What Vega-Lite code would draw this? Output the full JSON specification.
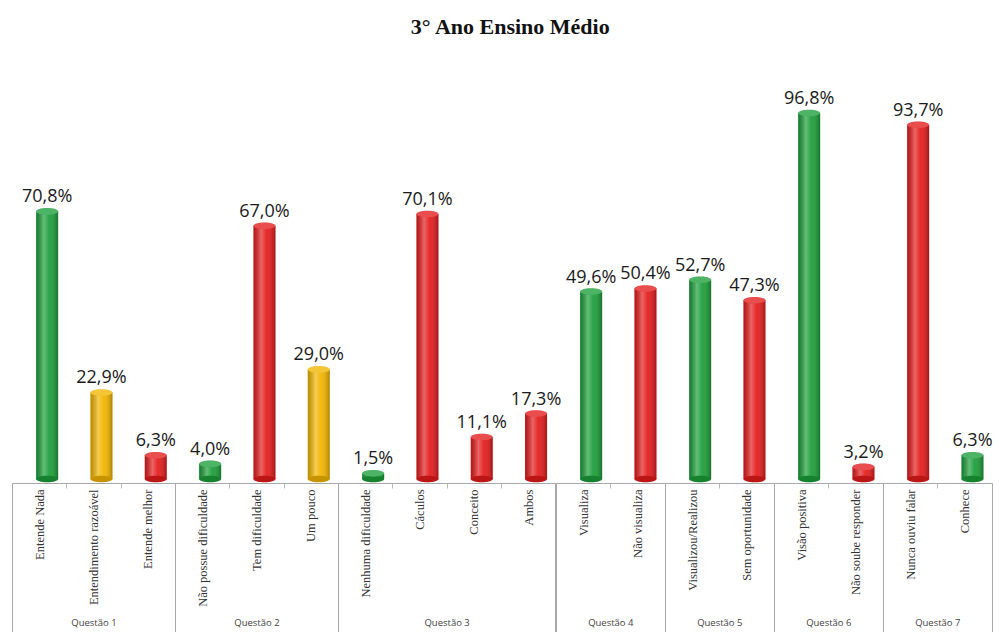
{
  "$schema": "https://vega.github.io/schema/vega-lite/v6.json",
  "padding": {"left": 6, "top": 16, "right": 0, "bottom": 0},
  "title": {"text": "3° Ano Ensino Médio", "font": "Liberation Serif", "fontSize": 22, "fontWeight": "bold", "color": "#111", "anchor": "middle", "offset": 51, "dx": 11},
  "config": {
    "view": {"stroke": null},
    "locale": {"number": {"decimal": ",", "thousands": ".", "grouping": [3], "currency": ["", "%"]}}
  },
  "data": {"values": [
    {"questao": "Questão 1", "resposta": "Entende Nada", "percentual": 70.8, "avaliacao": "favoravel"},
    {"questao": "Questão 1", "resposta": "Entendimento razoável", "percentual": 22.9, "avaliacao": "parcial"},
    {"questao": "Questão 1", "resposta": "Entende melhor", "percentual": 6.3, "avaliacao": "desfavoravel"},
    {"questao": "Questão 2", "resposta": "Não possue dificuldade", "percentual": 4.0, "avaliacao": "favoravel"},
    {"questao": "Questão 2", "resposta": "Tem dificuldade", "percentual": 67.0, "avaliacao": "desfavoravel"},
    {"questao": "Questão 2", "resposta": "Um pouco", "percentual": 29.0, "avaliacao": "parcial"},
    {"questao": "Questão 3", "resposta": "Nenhuma dificuldade", "percentual": 1.5, "avaliacao": "favoravel"},
    {"questao": "Questão 3", "resposta": "Cáculos", "percentual": 70.1, "avaliacao": "desfavoravel"},
    {"questao": "Questão 3", "resposta": "Conceito", "percentual": 11.1, "avaliacao": "desfavoravel"},
    {"questao": "Questão 3", "resposta": "Ambos", "percentual": 17.3, "avaliacao": "desfavoravel"},
    {"questao": "Questão 4", "resposta": "Visualiza", "percentual": 49.6, "avaliacao": "favoravel"},
    {"questao": "Questão 4", "resposta": "Não visualiza", "percentual": 50.4, "avaliacao": "desfavoravel"},
    {"questao": "Questão 5", "resposta": "Visualizou/Realizou", "percentual": 52.7, "avaliacao": "favoravel"},
    {"questao": "Questão 5", "resposta": "Sem oportunidade", "percentual": 47.3, "avaliacao": "desfavoravel"},
    {"questao": "Questão 6", "resposta": "Visão positiva", "percentual": 96.8, "avaliacao": "favoravel"},
    {"questao": "Questão 6", "resposta": "Não soube responder", "percentual": 3.2, "avaliacao": "desfavoravel"},
    {"questao": "Questão 7", "resposta": "Nunca ouviu falar", "percentual": 93.7, "avaliacao": "desfavoravel"},
    {"questao": "Questão 7", "resposta": "Conhece", "percentual": 6.3, "avaliacao": "favoravel"}
  ]},
  "spacing": 0,
  "bounds": "flush",
  "resolve": {"scale": {"color": "shared"}},
  "hconcat": [
    {
      "width": 162.9, "height": 378,
      "transform": [{"filter": {"field": "questao", "equal": "Questão 1"}}],
      "resolve": {"scale": {"x": "independent"}},
      "layer": [
        {
          "encoding": {
            "x": {"field": "resposta", "type": "nominal", "sort": null, "scale": {"type": "band", "paddingInner": 0, "paddingOuter": 0},
              "axis": {"orient": "bottom", "title": null, "offset": 4, "domainColor": "#a8a8a8", "tickColor": "#b8b8b8", "tickSize": 5, "tickBand": "extent", "labelAngle": 270, "labelAlign": "right", "labelBaseline": "middle", "labelPadding": 1, "labelFont": "Liberation Serif", "labelFontSize": 12.5, "labelColor": "#333", "labelLimit": 0, "labelOverlap": false}}
          },
          "layer": [
            {"mark": {"type": "bar", "width": 22, "xOffset": 8}, "encoding": {"y": {"field": "percentual", "type": "quantitative", "scale": {"domain": [0, 100]}, "axis": null}, "color": {"field": "avaliacao", "type": "nominal", "legend": null, "scale": {"domain": ["favoravel", "parcial", "desfavoravel"], "range": ["#1c9e3a", "#f2b500", "#e31c1c"]}}}},
            {"mark": {"type": "bar", "width": 22, "xOffset": 8, "fill": {"gradient": "linear", "x1": 0, "y1": 0, "x2": 1, "y2": 0, "stops": [{"offset": 0, "color": "rgba(0,0,0,0.22)"}, {"offset": 0.35, "color": "rgba(255,255,255,0.32)"}, {"offset": 0.6, "color": "rgba(255,255,255,0.06)"}, {"offset": 1, "color": "rgba(0,0,0,0.28)"}]}}, "encoding": {"y": {"field": "percentual", "type": "quantitative", "axis": null}}},
            {"mark": {"type": "point", "shape": "M-1,0A1,0.3,0,1,0,1,0A1,0.3,0,1,0,-1,0Z", "size": 484, "filled": true, "opacity": 1, "xOffset": 8}, "encoding": {"y": {"datum": 0, "axis": null}, "color": {"field": "avaliacao", "type": "nominal", "legend": null}}},
            {"mark": {"type": "point", "shape": "M-1,0A1,0.3,0,1,0,1,0A1,0.3,0,1,0,-1,0Z", "size": 484, "filled": true, "opacity": 0.18, "color": "#000", "xOffset": 8}, "encoding": {"y": {"datum": 0, "axis": null}}},
            {"mark": {"type": "point", "shape": "M-1,0A1,0.3,0,1,0,1,0A1,0.3,0,1,0,-1,0Z", "size": 484, "filled": true, "opacity": 1, "xOffset": 8}, "encoding": {"y": {"field": "percentual", "type": "quantitative", "axis": null}, "color": {"field": "avaliacao", "type": "nominal", "legend": null}}},
            {"mark": {"type": "point", "shape": "M-1,0A1,0.3,0,1,0,1,0A1,0.3,0,1,0,-1,0Z", "size": 484, "filled": true, "opacity": 0.22, "color": "#ffffff", "xOffset": 8}, "encoding": {"y": {"field": "percentual", "type": "quantitative", "axis": null}}},
            {"mark": {"type": "text", "xOffset": 8, "dy": -9, "baseline": "alphabetic", "font": "Open Sans", "fontSize": 18, "color": "#1a1a1a"}, "encoding": {"y": {"field": "percentual", "type": "quantitative", "axis": null}, "text": {"field": "percentual", "type": "quantitative", "format": "$.1f"}}}
          ]
        },
        {
          "mark": {"type": "point", "opacity": 0},
          "encoding": {
            "x": {"field": "questao", "type": "nominal", "scale": {"type": "band", "paddingInner": 0, "paddingOuter": 0},
              "axis": {"orient": "bottom", "title": null, "offset": 4, "domain": false, "tickColor": "#a8a8a8", "tickSize": 149, "tickBand": "extent", "labelAngle": 0, "labelAlign": "center", "labelBaseline": "middle", "labelPadding": -10, "labelFont": "Open Sans", "labelFontSize": 9.5, "labelColor": "#444"}}
          }
        }
      ]
    },
    {
      "width": 162.9, "height": 378,
      "transform": [{"filter": {"field": "questao", "equal": "Questão 2"}}],
      "resolve": {"scale": {"x": "independent"}},
      "layer": [
        {
          "encoding": {
            "x": {"field": "resposta", "type": "nominal", "sort": null, "scale": {"type": "band", "paddingInner": 0, "paddingOuter": 0},
              "axis": {"orient": "bottom", "title": null, "offset": 4, "domainColor": "#a8a8a8", "tickColor": "#b8b8b8", "tickSize": 5, "tickBand": "extent", "labelAngle": 270, "labelAlign": "right", "labelBaseline": "middle", "labelPadding": 1, "labelFont": "Liberation Serif", "labelFontSize": 12.5, "labelColor": "#333", "labelLimit": 0, "labelOverlap": false}}
          },
          "layer": [
            {"mark": {"type": "bar", "width": 22, "xOffset": 8}, "encoding": {"y": {"field": "percentual", "type": "quantitative", "scale": {"domain": [0, 100]}, "axis": null}, "color": {"field": "avaliacao", "type": "nominal", "legend": null}}},
            {"mark": {"type": "bar", "width": 22, "xOffset": 8, "fill": {"gradient": "linear", "x1": 0, "y1": 0, "x2": 1, "y2": 0, "stops": [{"offset": 0, "color": "rgba(0,0,0,0.22)"}, {"offset": 0.35, "color": "rgba(255,255,255,0.32)"}, {"offset": 0.6, "color": "rgba(255,255,255,0.06)"}, {"offset": 1, "color": "rgba(0,0,0,0.28)"}]}}, "encoding": {"y": {"field": "percentual", "type": "quantitative", "axis": null}}},
            {"mark": {"type": "point", "shape": "M-1,0A1,0.3,0,1,0,1,0A1,0.3,0,1,0,-1,0Z", "size": 484, "filled": true, "opacity": 1, "xOffset": 8}, "encoding": {"y": {"datum": 0, "axis": null}, "color": {"field": "avaliacao", "type": "nominal", "legend": null}}},
            {"mark": {"type": "point", "shape": "M-1,0A1,0.3,0,1,0,1,0A1,0.3,0,1,0,-1,0Z", "size": 484, "filled": true, "opacity": 0.18, "color": "#000", "xOffset": 8}, "encoding": {"y": {"datum": 0, "axis": null}}},
            {"mark": {"type": "point", "shape": "M-1,0A1,0.3,0,1,0,1,0A1,0.3,0,1,0,-1,0Z", "size": 484, "filled": true, "opacity": 1, "xOffset": 8}, "encoding": {"y": {"field": "percentual", "type": "quantitative", "axis": null}, "color": {"field": "avaliacao", "type": "nominal", "legend": null}}},
            {"mark": {"type": "point", "shape": "M-1,0A1,0.3,0,1,0,1,0A1,0.3,0,1,0,-1,0Z", "size": 484, "filled": true, "opacity": 0.22, "color": "#ffffff", "xOffset": 8}, "encoding": {"y": {"field": "percentual", "type": "quantitative", "axis": null}}},
            {"mark": {"type": "text", "xOffset": 8, "dy": -9, "baseline": "alphabetic", "font": "Open Sans", "fontSize": 18, "color": "#1a1a1a"}, "encoding": {"y": {"field": "percentual", "type": "quantitative", "axis": null}, "text": {"field": "percentual", "type": "quantitative", "format": "$.1f"}}}
          ]
        },
        {
          "mark": {"type": "point", "opacity": 0},
          "encoding": {
            "x": {"field": "questao", "type": "nominal", "scale": {"type": "band", "paddingInner": 0, "paddingOuter": 0},
              "axis": {"orient": "bottom", "title": null, "offset": 4, "domain": false, "tickColor": "#a8a8a8", "tickSize": 149, "tickBand": "extent", "labelAngle": 0, "labelAlign": "center", "labelBaseline": "middle", "labelPadding": -10, "labelFont": "Open Sans", "labelFontSize": 9.5, "labelColor": "#444"}}
          }
        }
      ]
    },
    {
      "width": 217.2, "height": 378,
      "transform": [{"filter": {"field": "questao", "equal": "Questão 3"}}],
      "resolve": {"scale": {"x": "independent"}},
      "layer": [
        {
          "encoding": {
            "x": {"field": "resposta", "type": "nominal", "sort": null, "scale": {"type": "band", "paddingInner": 0, "paddingOuter": 0},
              "axis": {"orient": "bottom", "title": null, "offset": 4, "domainColor": "#a8a8a8", "tickColor": "#b8b8b8", "tickSize": 5, "tickBand": "extent", "labelAngle": 270, "labelAlign": "right", "labelBaseline": "middle", "labelPadding": 1, "labelFont": "Liberation Serif", "labelFontSize": 12.5, "labelColor": "#333", "labelLimit": 0, "labelOverlap": false}}
          },
          "layer": [
            {"mark": {"type": "bar", "width": 22, "xOffset": 8}, "encoding": {"y": {"field": "percentual", "type": "quantitative", "scale": {"domain": [0, 100]}, "axis": null}, "color": {"field": "avaliacao", "type": "nominal", "legend": null}}},
            {"mark": {"type": "bar", "width": 22, "xOffset": 8, "fill": {"gradient": "linear", "x1": 0, "y1": 0, "x2": 1, "y2": 0, "stops": [{"offset": 0, "color": "rgba(0,0,0,0.22)"}, {"offset": 0.35, "color": "rgba(255,255,255,0.32)"}, {"offset": 0.6, "color": "rgba(255,255,255,0.06)"}, {"offset": 1, "color": "rgba(0,0,0,0.28)"}]}}, "encoding": {"y": {"field": "percentual", "type": "quantitative", "axis": null}}},
            {"mark": {"type": "point", "shape": "M-1,0A1,0.3,0,1,0,1,0A1,0.3,0,1,0,-1,0Z", "size": 484, "filled": true, "opacity": 1, "xOffset": 8}, "encoding": {"y": {"datum": 0, "axis": null}, "color": {"field": "avaliacao", "type": "nominal", "legend": null}}},
            {"mark": {"type": "point", "shape": "M-1,0A1,0.3,0,1,0,1,0A1,0.3,0,1,0,-1,0Z", "size": 484, "filled": true, "opacity": 0.18, "color": "#000", "xOffset": 8}, "encoding": {"y": {"datum": 0, "axis": null}}},
            {"mark": {"type": "point", "shape": "M-1,0A1,0.3,0,1,0,1,0A1,0.3,0,1,0,-1,0Z", "size": 484, "filled": true, "opacity": 1, "xOffset": 8}, "encoding": {"y": {"field": "percentual", "type": "quantitative", "axis": null}, "color": {"field": "avaliacao", "type": "nominal", "legend": null}}},
            {"mark": {"type": "point", "shape": "M-1,0A1,0.3,0,1,0,1,0A1,0.3,0,1,0,-1,0Z", "size": 484, "filled": true, "opacity": 0.22, "color": "#ffffff", "xOffset": 8}, "encoding": {"y": {"field": "percentual", "type": "quantitative", "axis": null}}},
            {"mark": {"type": "text", "xOffset": 8, "dy": -9, "baseline": "alphabetic", "font": "Open Sans", "fontSize": 18, "color": "#1a1a1a"}, "encoding": {"y": {"field": "percentual", "type": "quantitative", "axis": null}, "text": {"field": "percentual", "type": "quantitative", "format": "$.1f"}}}
          ]
        },
        {
          "mark": {"type": "point", "opacity": 0},
          "encoding": {
            "x": {"field": "questao", "type": "nominal", "scale": {"type": "band", "paddingInner": 0, "paddingOuter": 0},
              "axis": {"orient": "bottom", "title": null, "offset": 4, "domain": false, "tickColor": "#a8a8a8", "tickSize": 149, "tickBand": "extent", "labelAngle": 0, "labelAlign": "center", "labelBaseline": "middle", "labelPadding": -10, "labelFont": "Open Sans", "labelFontSize": 9.5, "labelColor": "#444"}}
          }
        }
      ]
    },
    {
      "width": 108.6, "height": 378,
      "transform": [{"filter": {"field": "questao", "equal": "Questão 4"}}],
      "resolve": {"scale": {"x": "independent"}},
      "layer": [
        {
          "encoding": {
            "x": {"field": "resposta", "type": "nominal", "sort": null, "scale": {"type": "band", "paddingInner": 0, "paddingOuter": 0},
              "axis": {"orient": "bottom", "title": null, "offset": 4, "domainColor": "#a8a8a8", "tickColor": "#b8b8b8", "tickSize": 5, "tickBand": "extent", "labelAngle": 270, "labelAlign": "right", "labelBaseline": "middle", "labelPadding": 1, "labelFont": "Liberation Serif", "labelFontSize": 12.5, "labelColor": "#333", "labelLimit": 0, "labelOverlap": false}}
          },
          "layer": [
            {"mark": {"type": "bar", "width": 22, "xOffset": 8}, "encoding": {"y": {"field": "percentual", "type": "quantitative", "scale": {"domain": [0, 100]}, "axis": null}, "color": {"field": "avaliacao", "type": "nominal", "legend": null}}},
            {"mark": {"type": "bar", "width": 22, "xOffset": 8, "fill": {"gradient": "linear", "x1": 0, "y1": 0, "x2": 1, "y2": 0, "stops": [{"offset": 0, "color": "rgba(0,0,0,0.22)"}, {"offset": 0.35, "color": "rgba(255,255,255,0.32)"}, {"offset": 0.6, "color": "rgba(255,255,255,0.06)"}, {"offset": 1, "color": "rgba(0,0,0,0.28)"}]}}, "encoding": {"y": {"field": "percentual", "type": "quantitative", "axis": null}}},
            {"mark": {"type": "point", "shape": "M-1,0A1,0.3,0,1,0,1,0A1,0.3,0,1,0,-1,0Z", "size": 484, "filled": true, "opacity": 1, "xOffset": 8}, "encoding": {"y": {"datum": 0, "axis": null}, "color": {"field": "avaliacao", "type": "nominal", "legend": null}}},
            {"mark": {"type": "point", "shape": "M-1,0A1,0.3,0,1,0,1,0A1,0.3,0,1,0,-1,0Z", "size": 484, "filled": true, "opacity": 0.18, "color": "#000", "xOffset": 8}, "encoding": {"y": {"datum": 0, "axis": null}}},
            {"mark": {"type": "point", "shape": "M-1,0A1,0.3,0,1,0,1,0A1,0.3,0,1,0,-1,0Z", "size": 484, "filled": true, "opacity": 1, "xOffset": 8}, "encoding": {"y": {"field": "percentual", "type": "quantitative", "axis": null}, "color": {"field": "avaliacao", "type": "nominal", "legend": null}}},
            {"mark": {"type": "point", "shape": "M-1,0A1,0.3,0,1,0,1,0A1,0.3,0,1,0,-1,0Z", "size": 484, "filled": true, "opacity": 0.22, "color": "#ffffff", "xOffset": 8}, "encoding": {"y": {"field": "percentual", "type": "quantitative", "axis": null}}},
            {"mark": {"type": "text", "xOffset": 8, "dy": -9, "baseline": "alphabetic", "font": "Open Sans", "fontSize": 18, "color": "#1a1a1a"}, "encoding": {"y": {"field": "percentual", "type": "quantitative", "axis": null}, "text": {"field": "percentual", "type": "quantitative", "format": "$.1f"}}}
          ]
        },
        {
          "mark": {"type": "point", "opacity": 0},
          "encoding": {
            "x": {"field": "questao", "type": "nominal", "scale": {"type": "band", "paddingInner": 0, "paddingOuter": 0},
              "axis": {"orient": "bottom", "title": null, "offset": 4, "domain": false, "tickColor": "#a8a8a8", "tickSize": 149, "tickBand": "extent", "labelAngle": 0, "labelAlign": "center", "labelBaseline": "middle", "labelPadding": -10, "labelFont": "Open Sans", "labelFontSize": 9.5, "labelColor": "#444"}}
          }
        }
      ]
    },
    {
      "width": 108.6, "height": 378,
      "transform": [{"filter": {"field": "questao", "equal": "Questão 5"}}],
      "resolve": {"scale": {"x": "independent"}},
      "layer": [
        {
          "encoding": {
            "x": {"field": "resposta", "type": "nominal", "sort": null, "scale": {"type": "band", "paddingInner": 0, "paddingOuter": 0},
              "axis": {"orient": "bottom", "title": null, "offset": 4, "domainColor": "#a8a8a8", "tickColor": "#b8b8b8", "tickSize": 5, "tickBand": "extent", "labelAngle": 270, "labelAlign": "right", "labelBaseline": "middle", "labelPadding": 1, "labelFont": "Liberation Serif", "labelFontSize": 12.5, "labelColor": "#333", "labelLimit": 0, "labelOverlap": false}}
          },
          "layer": [
            {"mark": {"type": "bar", "width": 22, "xOffset": 8}, "encoding": {"y": {"field": "percentual", "type": "quantitative", "scale": {"domain": [0, 100]}, "axis": null}, "color": {"field": "avaliacao", "type": "nominal", "legend": null}}},
            {"mark": {"type": "bar", "width": 22, "xOffset": 8, "fill": {"gradient": "linear", "x1": 0, "y1": 0, "x2": 1, "y2": 0, "stops": [{"offset": 0, "color": "rgba(0,0,0,0.22)"}, {"offset": 0.35, "color": "rgba(255,255,255,0.32)"}, {"offset": 0.6, "color": "rgba(255,255,255,0.06)"}, {"offset": 1, "color": "rgba(0,0,0,0.28)"}]}}, "encoding": {"y": {"field": "percentual", "type": "quantitative", "axis": null}}},
            {"mark": {"type": "point", "shape": "M-1,0A1,0.3,0,1,0,1,0A1,0.3,0,1,0,-1,0Z", "size": 484, "filled": true, "opacity": 1, "xOffset": 8}, "encoding": {"y": {"datum": 0, "axis": null}, "color": {"field": "avaliacao", "type": "nominal", "legend": null}}},
            {"mark": {"type": "point", "shape": "M-1,0A1,0.3,0,1,0,1,0A1,0.3,0,1,0,-1,0Z", "size": 484, "filled": true, "opacity": 0.18, "color": "#000", "xOffset": 8}, "encoding": {"y": {"datum": 0, "axis": null}}},
            {"mark": {"type": "point", "shape": "M-1,0A1,0.3,0,1,0,1,0A1,0.3,0,1,0,-1,0Z", "size": 484, "filled": true, "opacity": 1, "xOffset": 8}, "encoding": {"y": {"field": "percentual", "type": "quantitative", "axis": null}, "color": {"field": "avaliacao", "type": "nominal", "legend": null}}},
            {"mark": {"type": "point", "shape": "M-1,0A1,0.3,0,1,0,1,0A1,0.3,0,1,0,-1,0Z", "size": 484, "filled": true, "opacity": 0.22, "color": "#ffffff", "xOffset": 8}, "encoding": {"y": {"field": "percentual", "type": "quantitative", "axis": null}}},
            {"mark": {"type": "text", "xOffset": 8, "dy": -9, "baseline": "alphabetic", "font": "Open Sans", "fontSize": 18, "color": "#1a1a1a"}, "encoding": {"y": {"field": "percentual", "type": "quantitative", "axis": null}, "text": {"field": "percentual", "type": "quantitative", "format": "$.1f"}}}
          ]
        },
        {
          "mark": {"type": "point", "opacity": 0},
          "encoding": {
            "x": {"field": "questao", "type": "nominal", "scale": {"type": "band", "paddingInner": 0, "paddingOuter": 0},
              "axis": {"orient": "bottom", "title": null, "offset": 4, "domain": false, "tickColor": "#a8a8a8", "tickSize": 149, "tickBand": "extent", "labelAngle": 0, "labelAlign": "center", "labelBaseline": "middle", "labelPadding": -10, "labelFont": "Open Sans", "labelFontSize": 9.5, "labelColor": "#444"}}
          }
        }
      ]
    },
    {
      "width": 108.6, "height": 378,
      "transform": [{"filter": {"field": "questao", "equal": "Questão 6"}}],
      "resolve": {"scale": {"x": "independent"}},
      "layer": [
        {
          "encoding": {
            "x": {"field": "resposta", "type": "nominal", "sort": null, "scale": {"type": "band", "paddingInner": 0, "paddingOuter": 0},
              "axis": {"orient": "bottom", "title": null, "offset": 4, "domainColor": "#a8a8a8", "tickColor": "#b8b8b8", "tickSize": 5, "tickBand": "extent", "labelAngle": 270, "labelAlign": "right", "labelBaseline": "middle", "labelPadding": 1, "labelFont": "Liberation Serif", "labelFontSize": 12.5, "labelColor": "#333", "labelLimit": 0, "labelOverlap": false}}
          },
          "layer": [
            {"mark": {"type": "bar", "width": 22, "xOffset": 8}, "encoding": {"y": {"field": "percentual", "type": "quantitative", "scale": {"domain": [0, 100]}, "axis": null}, "color": {"field": "avaliacao", "type": "nominal", "legend": null}}},
            {"mark": {"type": "bar", "width": 22, "xOffset": 8, "fill": {"gradient": "linear", "x1": 0, "y1": 0, "x2": 1, "y2": 0, "stops": [{"offset": 0, "color": "rgba(0,0,0,0.22)"}, {"offset": 0.35, "color": "rgba(255,255,255,0.32)"}, {"offset": 0.6, "color": "rgba(255,255,255,0.06)"}, {"offset": 1, "color": "rgba(0,0,0,0.28)"}]}}, "encoding": {"y": {"field": "percentual", "type": "quantitative", "axis": null}}},
            {"mark": {"type": "point", "shape": "M-1,0A1,0.3,0,1,0,1,0A1,0.3,0,1,0,-1,0Z", "size": 484, "filled": true, "opacity": 1, "xOffset": 8}, "encoding": {"y": {"datum": 0, "axis": null}, "color": {"field": "avaliacao", "type": "nominal", "legend": null}}},
            {"mark": {"type": "point", "shape": "M-1,0A1,0.3,0,1,0,1,0A1,0.3,0,1,0,-1,0Z", "size": 484, "filled": true, "opacity": 0.18, "color": "#000", "xOffset": 8}, "encoding": {"y": {"datum": 0, "axis": null}}},
            {"mark": {"type": "point", "shape": "M-1,0A1,0.3,0,1,0,1,0A1,0.3,0,1,0,-1,0Z", "size": 484, "filled": true, "opacity": 1, "xOffset": 8}, "encoding": {"y": {"field": "percentual", "type": "quantitative", "axis": null}, "color": {"field": "avaliacao", "type": "nominal", "legend": null}}},
            {"mark": {"type": "point", "shape": "M-1,0A1,0.3,0,1,0,1,0A1,0.3,0,1,0,-1,0Z", "size": 484, "filled": true, "opacity": 0.22, "color": "#ffffff", "xOffset": 8}, "encoding": {"y": {"field": "percentual", "type": "quantitative", "axis": null}}},
            {"mark": {"type": "text", "xOffset": 8, "dy": -9, "baseline": "alphabetic", "font": "Open Sans", "fontSize": 18, "color": "#1a1a1a"}, "encoding": {"y": {"field": "percentual", "type": "quantitative", "axis": null}, "text": {"field": "percentual", "type": "quantitative", "format": "$.1f"}}}
          ]
        },
        {
          "mark": {"type": "point", "opacity": 0},
          "encoding": {
            "x": {"field": "questao", "type": "nominal", "scale": {"type": "band", "paddingInner": 0, "paddingOuter": 0},
              "axis": {"orient": "bottom", "title": null, "offset": 4, "domain": false, "tickColor": "#a8a8a8", "tickSize": 149, "tickBand": "extent", "labelAngle": 0, "labelAlign": "center", "labelBaseline": "middle", "labelPadding": -10, "labelFont": "Open Sans", "labelFontSize": 9.5, "labelColor": "#444"}}
          }
        }
      ]
    },
    {
      "width": 108.6, "height": 378,
      "transform": [{"filter": {"field": "questao", "equal": "Questão 7"}}],
      "resolve": {"scale": {"x": "independent"}},
      "layer": [
        {
          "encoding": {
            "x": {"field": "resposta", "type": "nominal", "sort": null, "scale": {"type": "band", "paddingInner": 0, "paddingOuter": 0},
              "axis": {"orient": "bottom", "title": null, "offset": 4, "domainColor": "#a8a8a8", "tickColor": "#b8b8b8", "tickSize": 5, "tickBand": "extent", "labelAngle": 270, "labelAlign": "right", "labelBaseline": "middle", "labelPadding": 1, "labelFont": "Liberation Serif", "labelFontSize": 12.5, "labelColor": "#333", "labelLimit": 0, "labelOverlap": false}}
          },
          "layer": [
            {"mark": {"type": "bar", "width": 22, "xOffset": 8}, "encoding": {"y": {"field": "percentual", "type": "quantitative", "scale": {"domain": [0, 100]}, "axis": null}, "color": {"field": "avaliacao", "type": "nominal", "legend": null}}},
            {"mark": {"type": "bar", "width": 22, "xOffset": 8, "fill": {"gradient": "linear", "x1": 0, "y1": 0, "x2": 1, "y2": 0, "stops": [{"offset": 0, "color": "rgba(0,0,0,0.22)"}, {"offset": 0.35, "color": "rgba(255,255,255,0.32)"}, {"offset": 0.6, "color": "rgba(255,255,255,0.06)"}, {"offset": 1, "color": "rgba(0,0,0,0.28)"}]}}, "encoding": {"y": {"field": "percentual", "type": "quantitative", "axis": null}}},
            {"mark": {"type": "point", "shape": "M-1,0A1,0.3,0,1,0,1,0A1,0.3,0,1,0,-1,0Z", "size": 484, "filled": true, "opacity": 1, "xOffset": 8}, "encoding": {"y": {"datum": 0, "axis": null}, "color": {"field": "avaliacao", "type": "nominal", "legend": null}}},
            {"mark": {"type": "point", "shape": "M-1,0A1,0.3,0,1,0,1,0A1,0.3,0,1,0,-1,0Z", "size": 484, "filled": true, "opacity": 0.18, "color": "#000", "xOffset": 8}, "encoding": {"y": {"datum": 0, "axis": null}}},
            {"mark": {"type": "point", "shape": "M-1,0A1,0.3,0,1,0,1,0A1,0.3,0,1,0,-1,0Z", "size": 484, "filled": true, "opacity": 1, "xOffset": 8}, "encoding": {"y": {"field": "percentual", "type": "quantitative", "axis": null}, "color": {"field": "avaliacao", "type": "nominal", "legend": null}}},
            {"mark": {"type": "point", "shape": "M-1,0A1,0.3,0,1,0,1,0A1,0.3,0,1,0,-1,0Z", "size": 484, "filled": true, "opacity": 0.22, "color": "#ffffff", "xOffset": 8}, "encoding": {"y": {"field": "percentual", "type": "quantitative", "axis": null}}},
            {"mark": {"type": "text", "xOffset": 8, "dy": -9, "baseline": "alphabetic", "font": "Open Sans", "fontSize": 18, "color": "#1a1a1a"}, "encoding": {"y": {"field": "percentual", "type": "quantitative", "axis": null}, "text": {"field": "percentual", "type": "quantitative", "format": "$.1f"}}}
          ]
        },
        {
          "mark": {"type": "point", "opacity": 0},
          "encoding": {
            "x": {"field": "questao", "type": "nominal", "scale": {"type": "band", "paddingInner": 0, "paddingOuter": 0},
              "axis": {"orient": "bottom", "title": null, "offset": 4, "domain": false, "tickColor": "#a8a8a8", "tickSize": 149, "tickBand": "extent", "labelAngle": 0, "labelAlign": "center", "labelBaseline": "middle", "labelPadding": -10, "labelFont": "Open Sans", "labelFontSize": 9.5, "labelColor": "#444"}}
          }
        }
      ]
    }
  ]
}
